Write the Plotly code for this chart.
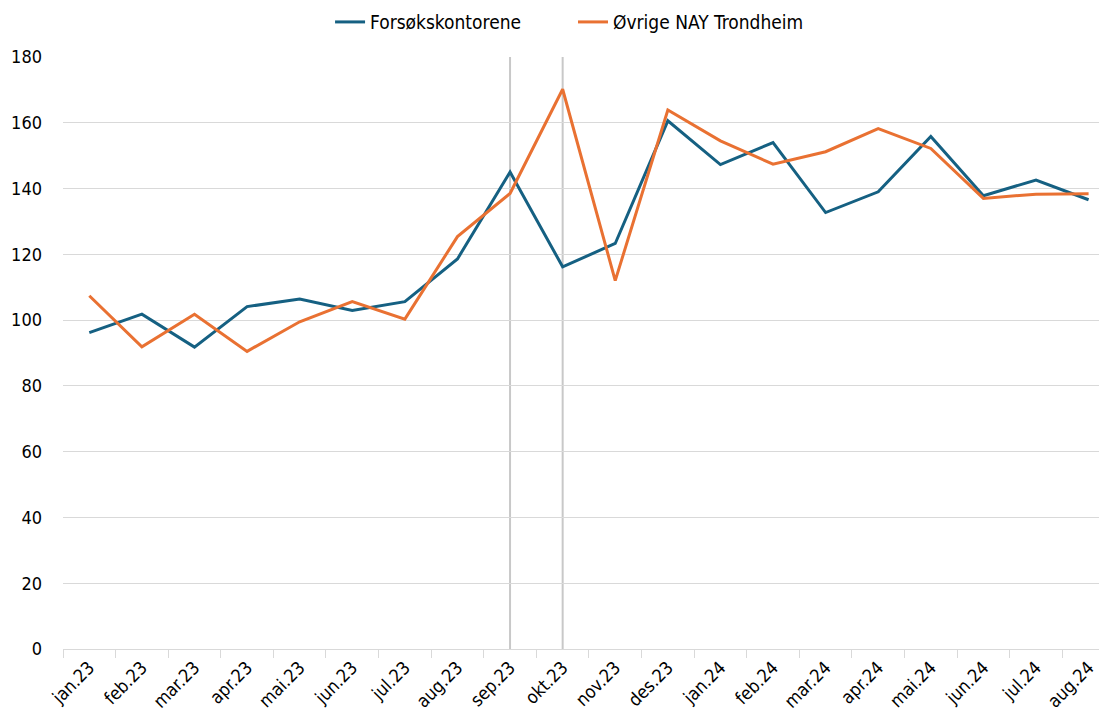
import plotly.graph_objects as go

months = ["jan.23", "feb.23", "mar.23", "apr.23", "mai.23", "jun.23", "jul.23",
          "aug.23", "sep.23", "okt.23", "nov.23", "des.23", "jan.24", "feb.24",
          "mar.24", "apr.24", "mai.24", "jun.24", "jul.24", "aug.24"]

forsok = [96.2, 101.8, 91.8, 104.1, 106.4, 102.9, 105.6, 118.6, 145.0, 116.2,
          123.3, 160.6, 147.3, 154.0, 132.7, 139.0, 155.8, 137.8, 142.6, 136.6]

ovrige = [107.4, 91.9, 101.8, 90.5, 99.5, 105.6, 100.3, 125.4, 138.5, 170.2,
          112.0, 163.9, 154.5, 147.4, 151.2, 158.2, 152.2, 137.0, 138.3, 138.4]

marker_months = ["sep.23", "okt.23"]

y_ticks = [0, 20, 40, 60, 80, 100, 120, 140, 160, 180]

FONT = "DejaVu Sans Condensed, Liberation Sans Narrow, sans-serif"

fig = go.Figure()
fig.add_trace(go.Scatter(x=months, y=forsok, mode="lines", name="Forsøkskontorene",
                         line=dict(color="#156082", width=3), legend="legend"))
fig.add_trace(go.Scatter(x=months, y=ovrige, mode="lines", name="Øvrige NAY Trondheim",
                         line=dict(color="#E97132", width=3), legend="legend2"))

for m in marker_months:
    fig.add_shape(type="line", xref="x", yref="y", x0=m, x1=m, y0=0, y1=180,
                  line=dict(color="#c8c8c8", width=2), layer="below")

leg_common = dict(orientation="h", xanchor="left", y=1.059, yanchor="middle",
                  font=dict(family=FONT, size=19), itemwidth=30,
                  bgcolor="rgba(0,0,0,0)")

fig.update_layout(
    width=1099, height=709,
    margin=dict(l=55, r=0, t=49, b=68, autoexpand=False),
    paper_bgcolor="white", plot_bgcolor="white",
    font=dict(family=FONT, size=17, color="#000000"),
    showlegend=True,
    legend=dict(x=0.2558, **leg_common),
    legend2=dict(x=0.4885, **leg_common),
    hovermode=False,
)

fig.update_xaxes(
    type="category", range=[-0.5, 19.35], automargin=False,
    showgrid=False, showline=True, linecolor="#d9d9d9", linewidth=1,
    ticks="outside", ticklen=8, tickcolor="#d9d9d9", tickson="boundaries",
    tickangle=-45, tickfont=dict(family=FONT, size=18),
)
fig.update_yaxes(
    range=[0, 180], tickvals=y_ticks, showgrid=True, gridcolor="#d9d9d9", gridwidth=1,
    zeroline=False, showline=False, ticks="", tickfont=dict(family=FONT, size=18),
    ticklabelstandoff=20, automargin=False,
)

fig.write_html("out.html")
